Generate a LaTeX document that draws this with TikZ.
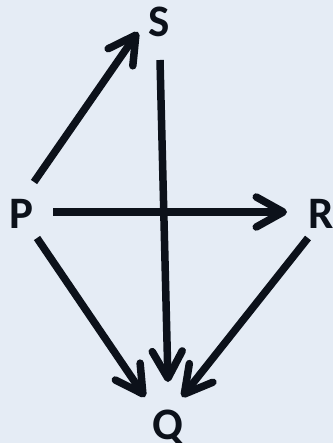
\documentclass[tikz,border=0pt]{standalone}
\usepackage{fontspec}
\setmainfont{Carlito}
\usepackage{xcolor}
\usepackage{tikz}
\usetikzlibrary{arrows.meta,calc}
\definecolor{paper}{RGB}{229,236,245}
\definecolor{ink}{RGB}{12,17,26}

\begin{document}
\begin{tikzpicture}[x=1pt,y=-1pt,
  vtx/.style={text=ink, inner sep=0pt, text height=29pt, text depth=0pt,
    font=\fontsize{45}{45}\selectfont\bfseries},
  arr/.style={draw=ink, line width=7.5pt,
    -{Straight Barb[length=27pt,width=30pt,round]}}]
  \fill[color=paper] (0,0) rectangle (333,443);
  \useasboundingbox (0,0) rectangle (333,443);
  \node[vtx] (S) at (159.5,22.5) {S};
  \node[vtx] (P) at (21.5,214) {P};
  \node[vtx] (R) at (321.5,214) {R};
  \node[vtx] (Q) at (167.5,425) {Q};
  \draw[arr] ($(P)+(12.5,-32)$) -- ($(S)+(-21.5,9.5)$);
  \draw[arr] ($(S)+(0.5,37.5)$) -- ($(Q)+(0.5,-43)$);
  \draw[arr] ($(P)+(31.5,-2)$) -- ($(R)+(-34.5,-2)$);
  \draw[arr] ($(P)+(15.5,24)$) -- ($(Q)+(-22.5,-28)$);
  \draw[arr] ($(R)+(-13.5,24)$) -- ($(Q)+(14.5,-28)$);
\end{tikzpicture}
\end{document}
